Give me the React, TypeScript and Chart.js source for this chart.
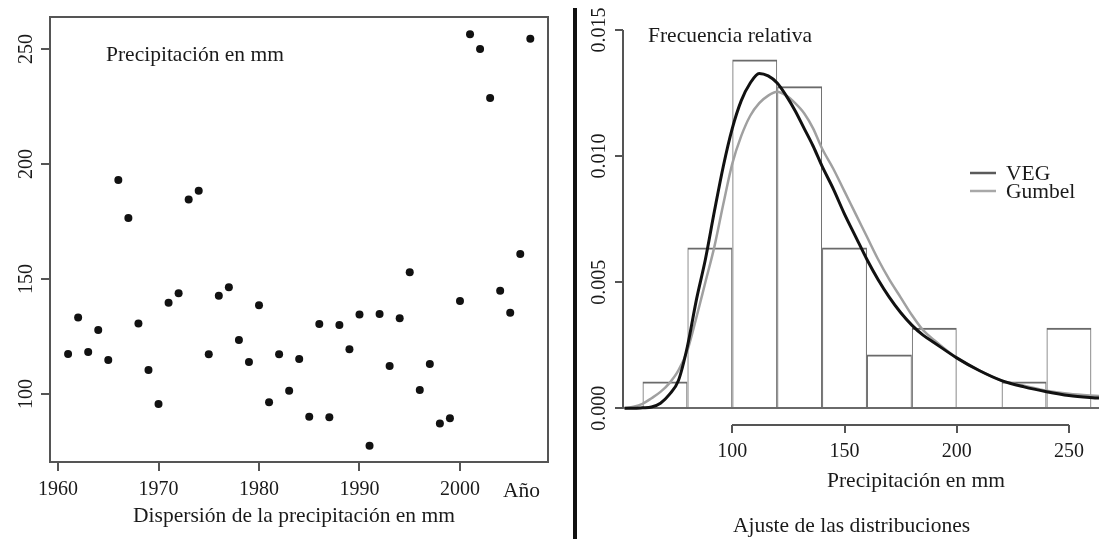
import { useEffect, useRef } from "react";
import { Chart, registerables } from "chart.js";

Chart.register(...registerables);

// ---------- Left panel: scatter of annual precipitation ----------
const years = [
  1961, 1962, 1963, 1964, 1965, 1966, 1967, 1968, 1969, 1970,
  1971, 1972, 1973, 1974, 1975, 1976, 1977, 1978, 1979, 1980,
  1981, 1982, 1983, 1984, 1985, 1986, 1987, 1988, 1989, 1990,
  1991, 1992, 1993, 1994, 1995, 1996, 1997, 1998, 1999, 2000,
  2001, 2002, 2003, 2004, 2005, 2006, 2007,
];
const precipitation = [
  117.4, 133.3, 118.3, 127.8, 114.8, 193.0, 176.5, 130.7, 110.4, 95.6,
  139.7, 143.8, 184.6, 188.4, 117.3, 142.7, 146.4, 123.5, 113.9, 138.6,
  96.4, 117.3, 101.4, 115.2, 90.1, 130.4, 89.9, 130.0, 119.4, 134.6,
  77.5, 134.8, 112.2, 132.9, 152.9, 101.7, 113.0, 87.2, 89.4, 140.4,
  256.4, 250.0, 228.7, 144.9, 135.3, 160.9, 254.5,
];
const yearTicks = [1960, 1970, 1980, 1990, 2000];
const precipTicks = [100, 150, 200, 250];

// ---------- Right panel: histogram + fitted distributions ----------
const binEdges = [60, 80, 100, 120, 140, 160, 180, 200, 220, 240, 260];
const relFreq = [0.00106, 0.00638, 0.01383, 0.01277, 0.00638, 0.00213, 0.00319, 0, 0.00106, 0.00319];
const curveX = [
  52, 56, 60, 64, 68, 72, 76, 80, 84, 88, 92, 96, 100, 104, 108, 112, 116, 120, 124, 128,
  132, 136, 140, 145, 150, 155, 160, 165, 170, 175, 180, 185, 190, 200, 210, 220, 230, 240, 250, 264,
];
const vegDensity = [
  0, 0, 0.00002, 0.00005, 0.0002, 0.00055, 0.0011, 0.00245, 0.0043, 0.0059,
  0.0078, 0.0096, 0.0111, 0.0122, 0.0129, 0.01328, 0.01318, 0.0129, 0.0124, 0.0118,
  0.0111, 0.0104, 0.0096, 0.0087, 0.0077, 0.0068, 0.0059, 0.0051, 0.0044, 0.0038,
  0.0033, 0.0029, 0.0026, 0.002, 0.0015, 0.0011, 0.00085, 0.00066, 0.00051, 0.0004,
];
const gumbelDensity = [
  0, 0.00006, 0.00018, 0.0004, 0.00065, 0.001, 0.0015, 0.0023, 0.0036, 0.005,
  0.0064, 0.0081, 0.0097, 0.0108, 0.0116, 0.0121, 0.0124, 0.01255, 0.0124, 0.0121,
  0.0117, 0.0111, 0.0103, 0.0095, 0.0086, 0.0077, 0.0068, 0.0059, 0.0051, 0.0044,
  0.0037, 0.0031, 0.0027, 0.002, 0.0015, 0.0011, 0.0009, 0.0007, 0.00058, 0.00048,
];
const densityTicks = [0, 0.005, 0.01, 0.015];
const densityTickLabels = ["0.000", "0.005", "0.010", "0.015"];
const mmTicks = [100, 150, 200, 250];
const seriesNames = ["VEG", "Gumbel"];

const FONT = "'Liberation Serif', 'Times New Roman', serif";
const TEXT = "#1a1a1a";
const AXIS = "#555";

const leftAxesPlugin = {
  id: "leftAxes",
  afterDraw(chart: any) {
    const { ctx, chartArea: a, scales } = chart;
    const xs = scales.x;
    const ys = scales.y;
    ctx.save();
    ctx.strokeStyle = AXIS;
    ctx.lineWidth = 2;
    ctx.strokeRect(a.left, a.top, a.right - a.left, a.bottom - a.top);
    ctx.beginPath();
    yearTicks.forEach((v) => {
      const px = Math.round(xs.getPixelForValue(v));
      ctx.moveTo(px, a.bottom);
      ctx.lineTo(px, a.bottom + 9);
    });
    precipTicks.forEach((v) => {
      const py = Math.round(ys.getPixelForValue(v));
      ctx.moveTo(a.left - 9, py);
      ctx.lineTo(a.left, py);
    });
    ctx.stroke();

    ctx.fillStyle = TEXT;
    ctx.font = `20px ${FONT}`;
    ctx.textAlign = "center";
    ctx.textBaseline = "alphabetic";
    yearTicks.forEach((v) => ctx.fillText(String(v), xs.getPixelForValue(v), a.bottom + 33));
    precipTicks.forEach((v) => {
      ctx.save();
      ctx.translate(a.left - 18, ys.getPixelForValue(v));
      ctx.rotate(-Math.PI / 2);
      ctx.fillText(String(v), 0, 0);
      ctx.restore();
    });

    ctx.font = `21.5px ${FONT}`;
    ctx.textAlign = "left";
    ctx.fillText("Año", 503, 497);
    ctx.fillText("Precipitación en mm", 106, 61);
    ctx.textAlign = "center";
    ctx.fillText("Dispersión de la precipitación en mm", 294, 522);
    ctx.restore();
  },
};

const rightAxesPlugin = {
  id: "rightAxes",
  beforeDatasetsDraw(chart: any) {
    const { ctx, chartArea: a, scales } = chart;
    const y0 = Math.round(scales.y.getPixelForValue(0));
    ctx.save();
    ctx.strokeStyle = "#6a6a6a";
    ctx.lineWidth = 2;
    ctx.beginPath();
    ctx.moveTo(a.left - 8, y0);
    ctx.lineTo(chart.width, y0);
    ctx.stroke();
    ctx.restore();
  },
  afterDraw(chart: any) {
    const { ctx, chartArea: a, scales } = chart;
    const xs = scales.x;
    const ys = scales.y;
    ctx.save();
    ctx.strokeStyle = AXIS;
    ctx.lineWidth = 2;
    ctx.beginPath();
    const yTop = Math.round(ys.getPixelForValue(densityTicks[densityTicks.length - 1]));
    const yBot = Math.round(ys.getPixelForValue(densityTicks[0]));
    ctx.moveTo(a.left, yTop);
    ctx.lineTo(a.left, yBot);
    densityTicks.forEach((v) => {
      const py = Math.round(ys.getPixelForValue(v));
      ctx.moveTo(a.left - 8, py);
      ctx.lineTo(a.left, py);
    });
    const xl = Math.round(xs.getPixelForValue(mmTicks[0]));
    const xr = Math.round(xs.getPixelForValue(mmTicks[mmTicks.length - 1]));
    ctx.moveTo(xl, a.bottom);
    ctx.lineTo(xr, a.bottom);
    mmTicks.forEach((v) => {
      const px = Math.round(xs.getPixelForValue(v));
      ctx.moveTo(px, a.bottom);
      ctx.lineTo(px, a.bottom + 8);
    });
    ctx.stroke();

    ctx.fillStyle = TEXT;
    ctx.font = `20px ${FONT}`;
    ctx.textAlign = "center";
    ctx.textBaseline = "alphabetic";
    mmTicks.forEach((v) => ctx.fillText(String(v), xs.getPixelForValue(v), a.bottom + 32));
    densityTicks.forEach((v, i) => {
      ctx.save();
      ctx.translate(a.left - 18, ys.getPixelForValue(v));
      ctx.rotate(-Math.PI / 2);
      ctx.fillText(densityTickLabels[i], 0, 0);
      ctx.restore();
    });

    ctx.font = `21.5px ${FONT}`;
    ctx.textAlign = "left";
    ctx.fillText("Frecuencia relativa", 75, 42);
    ctx.fillText("Precipitación en mm", 254, 487);
    ctx.fillText("Ajuste de las distribuciones", 160, 532);

    const legendColors = ["#5a5a5a", "#a8a8a8"];
    const legendY = [173, 191];
    ctx.lineWidth = 2.5;
    seriesNames.forEach((name, i) => {
      ctx.strokeStyle = legendColors[i];
      ctx.beginPath();
      ctx.moveTo(397, legendY[i]);
      ctx.lineTo(423, legendY[i]);
      ctx.stroke();
      ctx.fillText(name, 433, legendY[i] + 7);
    });
    ctx.restore();
  },
};

export default function App() {
  const leftRef = useRef<HTMLCanvasElement>(null);
  const rightRef = useRef<HTMLCanvasElement>(null);

  useEffect(() => {
    const left = new Chart(leftRef.current as HTMLCanvasElement, {
      type: "scatter",
      data: {
        datasets: [
          {
            data: years.map((y, i) => ({ x: y, y: precipitation[i] })),
            pointRadius: 4,
            pointBackgroundColor: "#111",
            pointBorderWidth: 0,
            showLine: false,
          },
        ],
      },
      options: {
        responsive: false,
        animation: false,
        events: [],
        layout: { padding: { left: 50, top: 17, right: 25, bottom: 77 } },
        scales: {
          x: { type: "linear", display: false, min: 1959.2, max: 2008.76 },
          y: { type: "linear", display: false, min: 70.43, max: 263.91 },
        },
        plugins: { legend: { display: false }, tooltip: { enabled: false } },
      },
      plugins: [leftAxesPlugin],
    } as any);

    const right = new Chart(rightRef.current as HTMLCanvasElement, {
      type: "bar",
      data: {
        datasets: [
          {
            type: "line",
            label: seriesNames[0],
            data: curveX.map((x, i) => ({ x, y: vegDensity[i] })),
            borderColor: "#111",
            borderWidth: 3,
            pointRadius: 0,
            cubicInterpolationMode: "monotone",
            fill: false,
            order: 1,
          },
          {
            type: "line",
            label: seriesNames[1],
            data: curveX.map((x, i) => ({ x, y: gumbelDensity[i] })),
            borderColor: "#a0a0a0",
            borderWidth: 2.5,
            pointRadius: 0,
            cubicInterpolationMode: "monotone",
            fill: false,
            order: 2,
          },
          {
            type: "bar",
            label: "hist",
            data: relFreq.map((f, i) => ({ x: (binEdges[i] + binEdges[i + 1]) / 2, y: f })),
            backgroundColor: "rgba(0,0,0,0)",
            borderColor: "#6a6a6a",
            borderWidth: { top: 2, left: 1, right: 1, bottom: 0 },
            borderSkipped: false,
            categoryPercentage: 1,
            barPercentage: 1,
            inflateAmount: 0,
            order: 3,
          },
        ],
      },
      options: {
        responsive: false,
        animation: false,
        events: [],
        layout: { padding: { left: 50, top: 15, right: 0, bottom: 114 } },
        scales: {
          x: {
            type: "linear",
            display: false,
            offset: false,
            min: 51.3,
            max: 263.4,
            ticks: { stepSize: 50, includeBounds: false },
          },
          y: { type: "linear", display: false, min: -0.000662, max: 0.015595 },
        },
        plugins: { legend: { display: false }, tooltip: { enabled: false } },
      },
      plugins: [rightAxesPlugin],
    } as any);

    return () => {
      left.destroy();
      right.destroy();
    };
  }, []);

  return (
    <div
      style={{
        position: "fixed",
        left: 0,
        top: 0,
        width: 1099,
        height: 539,
        background: "#fff",
        overflow: "hidden",
      }}
    >
      <canvas ref={leftRef} width={573} height={539} style={{ position: "absolute", left: 0, top: 0 }} />
      <canvas ref={rightRef} width={526} height={539} style={{ position: "absolute", left: 573, top: 0 }} />
      <div
        style={{
          position: "absolute",
          left: 573,
          top: 8,
          width: 4,
          height: 531,
          background: "#111",
        }}
      />
    </div>
  );
}
